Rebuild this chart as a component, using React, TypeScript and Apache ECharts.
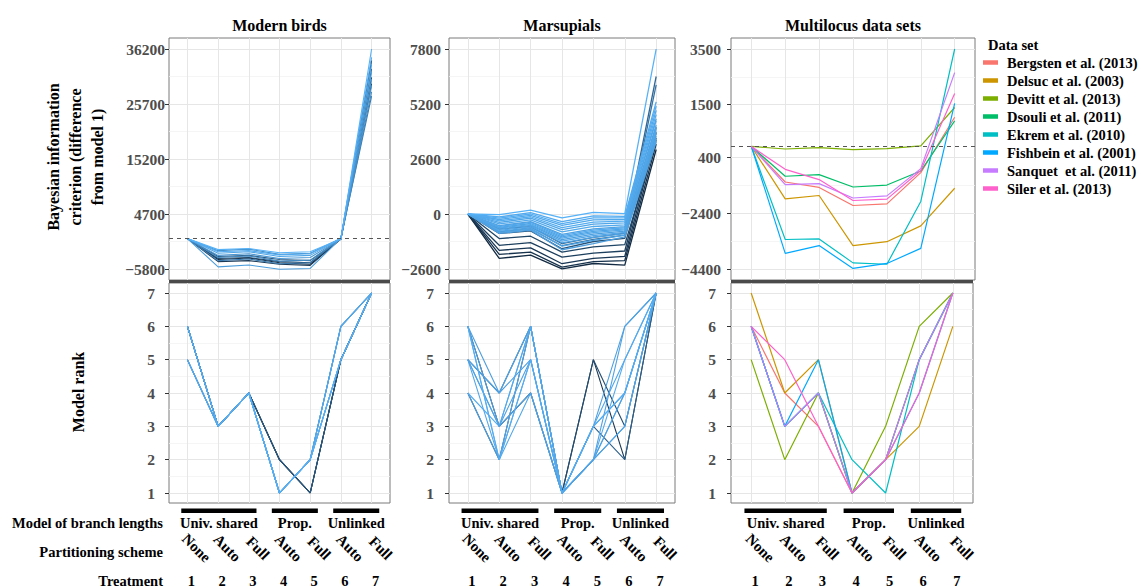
import React, { useEffect, useRef } from "react";
import * as echarts from "echarts";

const FONT = "serif";

// ---------- categories / labels ----------
const treatments = [1, 2, 3, 4, 5, 6, 7];
const treatmentLabels = ["1", "2", "3", "4", "5", "6", "7"];
const partitionLabels = ["None", "Auto", "Full", "Auto", "Full", "Auto", "Full"];
const branchGroups = [
  { label: "Univ. shared", from: 0.8, to: 3.25 },
  { label: "Prop.", from: 3.75, to: 5.25 },
  { label: "Unlinked", from: 5.75, to: 7.25 },
];
const panelTitles = ["Modern birds", "Marsupials", "Multilocus data sets"];
const rowLabels = ["Model of branch lengths", "Partitioning scheme", "Treatment"];

// ---------- axis ticks ----------
const birdsTicks = [-5800, 4700, 15200, 25700, 36200];
const birdsTickLabels = ["\u22125800", "4700", "15200", "25700", "36200"];
const birdsMinor = [-550, 9950, 20450, 30950];
const marsTicks = [-2600, 0, 2600, 5200, 7800];
const marsTickLabels = ["\u22122600", "0", "2600", "5200", "7800"];
const marsMinor = [-1300, 1300, 3900, 6500];
const multiTicks = [-4400, -2400, -400, 1500, 3500];
const multiTickLabels = ["\u22124400", "\u22122400", "400", "1500", "3500"];
const multiMinor = [-3400, -1400, 550, 2500];
const rankTicks = [1, 2, 3, 4, 5, 6, 7];
const rankTickLabels = ["1", "2", "3", "4", "5", "6", "7"];
const rankMinor = [1.5, 2.5, 3.5, 4.5, 5.5, 6.5];

// ---------- Modern birds ----------
const birdsShade = [0.0, 0.1, 0.2, 0.35, 0.6, 0.7, 0.75, 0.8, 0.85, 0.9, 0.95, 1.0];
const birdsBIC = [
  [0, -4000, -3700, -4600, -4900, -40, 34000],
  [0, -4400, -4200, -4900, -5100, -60, 29600],
  [0, -3800, -3600, -4400, -4600, -80, 30800],
  [0, -3400, -3200, -4000, -4200, -50, 32400],
  [0, -4200, -3900, -4800, -4600, 50, 27200],
  [0, -3600, -3300, -4300, -4100, -70, 28000],
  [0, -2300, -2000, -3000, -2800, 40, 29200],
  [0, -3200, -2900, -3800, -3600, -90, 30400],
  [0, -5400, -5050, -5850, -5700, 60, 31800],
  [0, -2800, -2500, -3400, -3200, -40, 33200],
  [0, -2500, -2300, -3100, -2900, 80, 34600],
  [0, -2100, -1900, -2700, -2500, -60, 36200],
];
const birdsRank = [
  [6, 3, 4, 2, 1, 5, 7],
  [6, 3, 4, 2, 1, 5, 7],
  [6, 3, 4, 2, 1, 5, 7],
  [6, 3, 4, 2, 1, 5, 7],
  [5, 3, 4, 1, 2, 6, 7],
  [6, 3, 4, 1, 2, 5, 7],
  [5, 3, 4, 1, 2, 6, 7],
  [6, 3, 4, 1, 2, 5, 7],
  [5, 3, 4, 1, 2, 6, 7],
  [6, 3, 4, 1, 2, 5, 7],
  [5, 3, 4, 1, 2, 6, 7],
  [6, 3, 4, 1, 2, 5, 7],
];

// ---------- Marsupials ----------
const marsShade = [0.0, 0.05, 0.1, 0.15, 0.2, 0.3, 0.45, 0.55,
  0.86, 0.9, 0.88, 0.92, 0.87, 0.93, 0.9, 0.95, 0.89, 0.94, 0.91, 0.96, 0.93, 0.97, 0.95, 1.0];
const marsBIC = [
  [0, -2100, -1940, -2590, -2340, -2420, 3050],
  [0, -1910, -1800, -2510, -2250, -2200, 3300],
  [0, -1720, -1600, -2350, -2100, -2000, 3600],
  [0, -1480, -1350, -2040, -1850, -1750, 3860],
  [0, -1160, -1050, -1800, -1550, -1450, 3500],
  [0, -920, -800, -1640, -1300, -1150, 4100],
  [0, -700, -600, -1400, -1100, -900, 6500],
  [0, -850, -700, -1500, -1200, -1000, 6100],
  [0, -920, -760, -1690, -1400, -1080, 3400],
  [0, -870, -700, -1520, -1250, -1000, 3500],
  [0, -820, -650, -1360, -1100, -930, 3600],
  [0, -770, -600, -1280, -1020, -870, 3700],
  [0, -720, -540, -1210, -950, -810, 3800],
  [0, -670, -500, -1140, -880, -750, 3900],
  [0, -630, -450, -1080, -820, -700, 4000],
  [0, -590, -400, -1020, -760, -650, 4100],
  [0, -550, -360, -960, -700, -600, 4200],
  [0, -470, -280, -850, -590, -510, 4400],
  [0, -400, -200, -740, -480, -420, 4500],
  [0, -330, -130, -640, -380, -340, 4700],
  [0, -260, -60, -540, -280, -260, 4900],
  [0, -200, 0, -450, -180, -180, 5100],
  [0, -140, 60, -360, -90, -110, 5300],
  [0, -30, 180, -180, 80, 20, 7800],
];
const marsRankShade = [0.1, 0.25, 0.4, 0.86, 0.9, 0.88, 0.92, 0.87, 0.93, 0.9, 0.95, 0.89, 0.97];
const marsRank = [
  [6, 3, 4, 1, 5, 2, 7],
  [4, 2, 6, 1, 5, 3, 7],
  [5, 4, 6, 1, 3, 2, 7],
  [6, 4, 5, 1, 2, 3, 7],
  [5, 3, 6, 1, 2, 4, 7],
  [6, 3, 5, 1, 2, 4, 7],
  [5, 2, 6, 1, 3, 4, 7],
  [4, 2, 5, 1, 3, 6, 7],
  [6, 2, 4, 1, 3, 5, 7],
  [5, 4, 6, 1, 2, 3, 7],
  [4, 3, 6, 1, 2, 5, 7],
  [5, 3, 4, 1, 2, 6, 7],
  [6, 2, 5, 1, 3, 4, 7],
];

// ---------- Multilocus data sets ----------
const multiNames = [
  "Bergsten et al. (2013)",
  "Delsuc et al. (2003)",
  "Devitt et al. (2013)",
  "Dsouli et al. (2011)",
  "Ekrem et al. (2010)",
  "Fishbein et al. (2001)",
  "Sanquet  et al. (2011)",
  "Siler et al. (2013)",
];
const multiColors = ["#F8766D", "#CD9600", "#7CAE00", "#00BE67", "#00BFC4", "#00A9FF", "#C77CFF", "#FF61CC"];
const multiBIC = [
  [0, -1275, -1470, -2120, -2060, -940, 1050],
  [0, -1880, -1760, -3560, -3420, -2850, -1500],
  [0, -90, -40, -110, -80, 20, 1400],
  [0, -1070, -1010, -1455, -1385, -880, 920],
  [0, -3340, -3320, -4180, -4230, -1975, 3500],
  [0, -3840, -3560, -4380, -4200, -3660, 1550],
  [0, -1370, -1335, -1850, -1775, -795, 2650],
  [0, -820, -1190, -1940, -1890, -860, 1900],
];
const multiRank = [
  [6, 4, 3, 1, 2, 5, 7],
  [7, 4, 5, 1, 2, 3, 6],
  [5, 2, 4, 1, 3, 6, 7],
  [6, 3, 4, 1, 2, 5, 7],
  [6, 3, 4, 2, 1, 5, 7],
  [6, 3, 5, 1, 2, 4, 7],
  [6, 3, 4, 1, 2, 5, 7],
  [6, 5, 3, 1, 2, 4, 7],
];

// ---------- layout ----------
const grids = [
  { left: 169, top: 38, width: 221, height: 242 },
  { left: 449, top: 38, width: 226, height: 242 },
  { left: 731, top: 38, width: 244, height: 242 },
  { left: 169, top: 283, width: 221, height: 220 },
  { left: 449, top: 283, width: 226, height: 220 },
  { left: 731, top: 283, width: 242, height: 220 },
];

function shadeColor(t: number): string {
  const a = [19, 43, 67];
  const b = [86, 177, 247];
  const c = a.map((v, i) => Math.round(v + (b[i] - v) * t));
  return `rgb(${c[0]},${c[1]},${c[2]})`;
}

function majorY(gridIndex: number, min: number, max: number, ticks: number[], labels: string[], margin: number) {
  return {
    type: "value",
    gridIndex,
    min,
    max,
    axisLine: { show: false },
    axisTick: { show: true, length: 4, customValues: ticks, lineStyle: { color: "#333", width: 1 } },
    axisLabel: {
      show: true,
      customValues: ticks,
      margin,
      formatter: (v: number) => {
        const i = ticks.findIndex((t) => Math.abs(t - v) < 1e-6);
        return i >= 0 ? labels[i] : "";
      },
      color: "#4d4d4d",
      fontSize: 15.5,
      fontWeight: "bold",
      fontFamily: FONT,
    },
    splitLine: { show: true, lineStyle: { color: "#e6e6e6", width: 1 } },
  };
}

function minorY(gridIndex: number, min: number, max: number, minors: number[]) {
  return {
    type: "value",
    gridIndex,
    min,
    max,
    position: "right",
    axisLine: { show: false },
    axisTick: { show: false, customValues: minors },
    axisLabel: { show: false, customValues: minors },
    splitLine: { show: true, lineStyle: { color: "#f3f3f3", width: 0.8 } },
  };
}

function lineSeries(name: string, gridIdx: number, yIdx: number, values: number[], color: string, width: number, extra: any = {}) {
  return {
    type: "line",
    name,
    xAxisIndex: gridIdx,
    yAxisIndex: yIdx,
    data: treatments.map((x, j) => [x, values[j]]),
    showSymbol: false,
    symbol: "none",
    silent: true,
    itemStyle: { color },
    lineStyle: { color, width },
    emphasis: { disabled: true },
    ...extra,
  };
}

const dashedZero = {
  silent: true,
  symbol: ["none", "none"],
  label: { show: false },
  lineStyle: { type: [4, 4], color: "#555", width: 1 },
  data: [{ yAxis: 0 }],
};

export default function App() {
  const ref = useRef<HTMLDivElement>(null);

  useEffect(() => {
    if (!ref.current) return;
    const chart = echarts.init(ref.current, null, { renderer: "svg" });

    const xAxes = grids.map((_, i) => ({
      type: "value",
      gridIndex: i,
      min: 0.4,
      max: 7.6,
      axisLine: { show: false },
      axisTick: { show: false, customValues: treatments },
      axisLabel: { show: false, customValues: treatments },
      splitLine: { show: true, lineStyle: { color: "#e6e6e6", width: 1 } },
    }));

    const yAxes = [
      majorY(0, -7900, 38300, birdsTicks, birdsTickLabels, 4),
      majorY(1, -3120, 8320, marsTicks, marsTickLabels, 8),
      majorY(2, -4795, 3895, multiTicks, multiTickLabels, 10),
      majorY(3, 0.7, 7.3, rankTicks, rankTickLabels, 14),
      majorY(4, 0.7, 7.3, rankTicks, rankTickLabels, 15),
      majorY(5, 0.7, 7.3, rankTicks, rankTickLabels, 15),
      minorY(0, -7900, 38300, birdsMinor),
      minorY(1, -3120, 8320, marsMinor),
      minorY(2, -4795, 3895, multiMinor),
      minorY(3, 0.7, 7.3, rankMinor),
      minorY(4, 0.7, 7.3, rankMinor),
      minorY(5, 0.7, 7.3, rankMinor),
    ];

    const series: any[] = [];
    birdsBIC.forEach((v, i) => {
      series.push(
        lineSeries("birds" + i, 0, 0, v, shadeColor(birdsShade[i]), 1.1, i === 0 ? { markLine: dashedZero } : {})
      );
    });
    birdsRank.forEach((v, i) => {
      series.push(lineSeries("birdsRank" + i, 3, 3, v, shadeColor(birdsShade[i]), 1.1));
    });
    marsBIC.forEach((v, i) => {
      series.push(lineSeries("mars" + i, 1, 1, v, shadeColor(marsShade[i]), 1.3));
    });
    marsRank.forEach((v, i) => {
      series.push(lineSeries("marsRank" + i, 4, 4, v, shadeColor(marsRankShade[i]), 1.1));
    });
    multiBIC.forEach((v, i) => {
      series.push(lineSeries(multiNames[i], 2, 2, v, multiColors[i], 1.2, i === 0 ? { markLine: dashedZero } : {}));
    });
    multiRank.forEach((v, i) => {
      series.push(lineSeries(multiNames[i], 5, 5, v, multiColors[i], 1.2));
    });

    const option: any = {
      animation: false,
      backgroundColor: "#ffffff",
      grid: grids.map((g) => ({
        ...g,
        show: true,
        borderColor: "#7a7a7a",
        borderWidth: 1,
        backgroundColor: "transparent",
        containLabel: false,
        outerBoundsMode: "none",
      })),
      xAxis: xAxes,
      yAxis: yAxes,
      legend: {
        data: multiNames.map((n, i) => ({ name: n, itemStyle: { color: multiColors[i], borderWidth: 0 } })),
        orient: "vertical",
        left: 983,
        top: 55,
        padding: 0,
        icon: "rect",
        itemWidth: 15,
        itemHeight: 4.5,
        itemGap: 3,
        selectedMode: false,
        itemStyle: { borderWidth: 0 },
        textStyle: {
          fontFamily: FONT,
          fontSize: 14.5,
          fontWeight: "bold",
          color: "#000",
          lineHeight: 15,
          padding: [0, 0, 0, 4],
        },
      },
      series,
    };
    chart.setOption(option);

    // annotations placed through the axes' own scales
    const graphics: any[] = [];
    const textStyle = (extra: any) => ({ fontFamily: FONT, fontWeight: "bold", fill: "#000", ...extra });

    panelTitles.forEach((t, p) => {
      const g = grids[p];
      graphics.push({
        type: "text",
        x: g.left + g.width / 2,
        y: 25,
        style: textStyle({ text: t, fontSize: 16, align: "center", verticalAlign: "middle" }),
      });
      graphics.push({
        type: "rect",
        shape: { x: g.left, y: 280, width: grids[p + 3].width, height: 3 },
        style: { fill: "#4a4a4a" },
      });
    });

    graphics.push({
      type: "text",
      x: 75,
      y: 157,
      rotation: Math.PI / 2,
      style: textStyle({
        text: "Bayesian information\ncriterion (difference\nfrom model 1)",
        fontSize: 16,
        lineHeight: 22,
        align: "center",
        verticalAlign: "middle",
      }),
    });
    graphics.push({
      type: "text",
      x: 78,
      y: 392,
      rotation: Math.PI / 2,
      style: textStyle({ text: "Model rank", fontSize: 16, align: "center", verticalAlign: "middle" }),
    });

    const rowY = [523, 552, 581];
    rowLabels.forEach((t, i) => {
      graphics.push({
        type: "text",
        x: 163,
        y: rowY[i],
        style: textStyle({ text: t, fontSize: 14.5, align: "right", verticalAlign: "middle" }),
      });
    });

    for (let p = 0; p < 3; p++) {
      const axisIndex = 3 + p;
      const px = (v: number) => chart.convertToPixel({ xAxisIndex: axisIndex }, v) as number;
      branchGroups.forEach((b) => {
        const x0 = px(b.from);
        const x1 = px(b.to);
        graphics.push({
          type: "rect",
          shape: { x: x0, y: 508.5, width: x1 - x0, height: 4.5 },
          style: { fill: "#000" },
        });
        graphics.push({
          type: "text",
          x: (x0 + x1) / 2,
          y: 523,
          style: textStyle({ text: b.label, fontSize: 14.5, align: "center", verticalAlign: "middle" }),
        });
      });
      treatments.forEach((t, j) => {
        const x = px(t);
        graphics.push({
          type: "text",
          x: x + 9,
          y: 548,
          rotation: -Math.PI / 4,
          style: textStyle({ text: partitionLabels[j], fontSize: 15, align: "center", verticalAlign: "middle" }),
        });
        graphics.push({
          type: "text",
          x: x + 4,
          y: 581,
          style: textStyle({ text: treatmentLabels[j], fontSize: 14.5, align: "center", verticalAlign: "middle" }),
        });
      });
    }

    graphics.push({
      type: "text",
      x: 988,
      y: 44.5,
      style: textStyle({ text: "Data set", fontSize: 14.5, align: "left", verticalAlign: "middle" }),
    });

    chart.setOption({ graphic: graphics });

    return () => {
      chart.dispose();
    };
  }, []);

  return (
    <div
      ref={ref}
      style={{ position: "fixed", left: 0, top: 0, width: 1141, height: 588, background: "#fff" }}
    />
  );
}
